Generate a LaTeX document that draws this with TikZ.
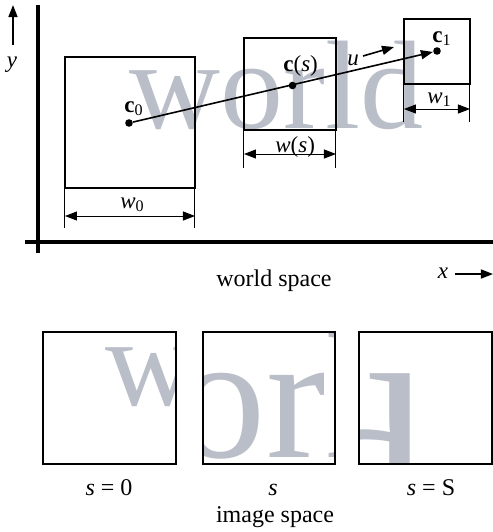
\documentclass[tikz,border=0pt]{standalone}
\usepackage{fontspec}
\setmainfont{Liberation Serif}
\usetikzlibrary{arrows.meta}
\definecolor{wmgray}{RGB}{186,190,201}
\tikzset{
  box/.style={draw, line width=0.75pt},
  axisline/.style={line width=1.6pt},
  tip/.style={-{Triangle[length=6pt,width=4.5pt]}},
  dimline/.style={line width=0.5pt, {Triangle[length=6pt,width=4.5pt]}-{Triangle[length=6pt,width=4.5pt]}},
  tickline/.style={line width=0.5pt},
  dot/.style={circle, fill, inner sep=0pt, minimum size=3.8pt},
  lbl/.style={inner sep=0pt, anchor=base west, font=\fontsize{11.5}{13}\selectfont},
  txt/.style={inner sep=0pt, anchor=base, font=\fontsize{12}{14}\selectfont},
  wm/.style={anchor=base west, inner sep=0pt, text=wmgray, font=\fontsize{63}{70}\selectfont},
}
\begin{document}
\begin{tikzpicture}[x=0.5pt,y=-0.5pt]
\useasboundingbox (0,0) rectangle (493,532);

% watermark in world space
\node[wm] (wmworld) at (129,128) {world};

% watermark seen in the image boxes
\begin{scope}
  \clip (43,332) rectangle (176,464);
  \begin{scope}[shift={(43,332)}, scale=1, shift={(-67,-55)}]
    \node[wm, transform shape] (wmA) at (129,128) {world};
  \end{scope}
\end{scope}
\begin{scope}
  \clip (203,332) rectangle (335,464);
  \begin{scope}[shift={(203,332)}, scale=1.42, shift={(-239,-39.3)}]
    \node[wm, transform shape] (wmB) at (129,128) {world};
  \end{scope}
\end{scope}
\begin{scope}
  \clip (359,332) rectangle (492,464);
  \begin{scope}[shift={(359,332)}, scale=2, shift={(-389,-19.8)}]
    \node[wm, transform shape] (wmC) at (129,128) {world};
  \end{scope}
\end{scope}

% axes
\coordinate (yaxT) at (38,5);
\coordinate (yaxB) at (38,253);
\coordinate (xaxL) at (25,242);
\coordinate (xaxR) at (493,242);
\draw[axisline] (yaxT) -- (yaxB);
\draw[axisline] (xaxL) -- (xaxR);

\coordinate (ya0) at (13,45);
\coordinate (ya1) at (13,5);
\draw[line width=0.8pt, tip] (ya0) -- (ya1);
\node[txt, font=\fontsize{11.5}{13}\selectfont] (ylab) at (12,67) {\textit{y}};

\coordinate (xa0) at (455,274);
\coordinate (xa1) at (493,274);
\draw[line width=0.8pt, tip] (xa0) -- (xa1);
\node[txt, font=\fontsize{11.5}{13}\selectfont] (xlab) at (443,278) {\textit{x}};

% world boxes
\coordinate (b0a) at (65,57);  \coordinate (b0b) at (195,188);
\coordinate (bma) at (244,38); \coordinate (bmb) at (336,130);
\coordinate (b1a) at (404,19); \coordinate (b1b) at (470,84);
\draw[box] (b0a) rectangle (b0b);
\draw[box] (bma) rectangle (bmb);
\draw[box] (b1a) rectangle (b1b);

% width dimensions
\coordinate (t0a) at (65,188);  \coordinate (t0b) at (65,228);
\coordinate (t0c) at (195,188); \coordinate (t0d) at (195,228);
\draw[tickline] (t0a) -- (t0b);
\draw[tickline] (t0c) -- (t0d);
\coordinate (d0l) at (65,216); \coordinate (d0r) at (195,216);
\draw[dimline] (d0l) -- (d0r);
\node[lbl] (lw0) at (120,208) {\textit{w}\textsubscript{0}};

\coordinate (tma) at (244,130); \coordinate (tmb) at (244,168);
\coordinate (tmc) at (336,130); \coordinate (tmd) at (336,168);
\draw[tickline] (tma) -- (tmb);
\draw[tickline] (tmc) -- (tmd);
\coordinate (dml) at (244,154); \coordinate (dmr) at (336,154);
\draw[dimline] (dml) -- (dmr);
\node[lbl] (lws) at (275,152) {\textit{w}(\textit{s})};

\coordinate (t1a) at (404,84);  \coordinate (t1b) at (404,122);
\coordinate (t1c) at (470,84);  \coordinate (t1d) at (470,122);
\draw[tickline] (t1a) -- (t1b);
\draw[tickline] (t1c) -- (t1d);
\coordinate (d1l) at (404,109); \coordinate (d1r) at (470,109);
\draw[dimline] (d1l) -- (d1r);
\node[lbl] (lw1) at (427,103) {\textit{w}\textsubscript{1}};

% centres and path
\node[dot] (c0) at (129,123) {};
\node[dot] (cs) at (292.5,85.5) {};
\node[dot] (c1) at (437,51) {};
\draw[line width=0.8pt, tip] (c0) -- (c1);
\node[lbl] (lc0) at (124,112) {\textbf{c}\textsubscript{0}};
\node[lbl] (lcs) at (283,71) {\textbf{c}(\textit{s})};
\node[lbl] (lc1) at (432,42) {\textbf{c}\textsubscript{1}};

\coordinate (ua0) at (363,56);
\coordinate (ua1) at (394,47);
\draw[line width=0.8pt, tip] (ua0) -- (ua1);
\node[lbl] (lu) at (347,65) {\textit{u}};

\node[txt] (lworld) at (274,286) {world space};

% image space boxes
\coordinate (iaa) at (43,332);  \coordinate (iab) at (176,464);
\coordinate (iba) at (203,332); \coordinate (ibb) at (335,464);
\coordinate (ica) at (359,332); \coordinate (icb) at (492,464);
\draw[box] (iaa) rectangle (iab);
\draw[box] (iba) rectangle (ibb);
\draw[box] (ica) rectangle (icb);

\node[txt] (ls0) at (109,495) {\textit{s} = 0};
\node[txt] (lss) at (273,495) {\textit{s}};
\node[txt] (lsS) at (431,495) {\textit{s} = S};
\node[txt] (limg) at (275,522) {image space};
\end{tikzpicture}
\end{document}
